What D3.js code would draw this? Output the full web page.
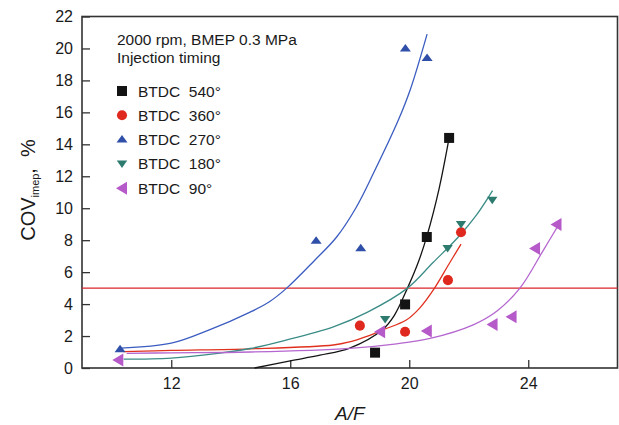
<!DOCTYPE html>
<html>
<head>
<meta charset="utf-8">
<script src="https://cdn.jsdelivr.net/npm/d3@7"></script>
<style>
  html, body { margin: 0; padding: 0; background: #fff; }
  svg { display: block; font-family: "Liberation Sans", Arial, sans-serif; }
</style>
</head>
<body>
<div id="chart"></div>
<script>
// ---------------------------------------------------------------------------
// Données
// ---------------------------------------------------------------------------
const xMajorTicks = [12, 16, 20, 24];
const xMinorTicks = [10, 14, 18, 22, 26];
const yMajorTicks = [0, 2, 4, 6, 8, 10, 12, 14, 16, 18, 20, 22];
const yMinorTicks = [1, 3, 5, 7, 9, 11, 13, 15, 17, 19, 21];
const limitCov = 5;

const seriesNames = ['BTDC  540°', 'BTDC  360°', 'BTDC  270°', 'BTDC  180°', 'BTDC  90°'];

// points mesurés [A/F, COV]
const pts540 = [[18.85, 0.96], [19.86, 3.98], [20.59, 8.2], [21.34, 14.4]];
const pts360 = [[18.34, 2.65], [19.86, 2.27], [21.3, 5.5], [21.74, 8.5]];
const pts270 = [[10.28, 1.17], [16.87, 7.96], [18.37, 7.5], [19.87, 20.0], [20.6, 19.4]];
const pts180 = [[19.19, 3.04], [21.29, 7.48], [21.74, 8.98], [22.79, 10.5]];
const pts90  = [[10.22, 0.5], [19.02, 2.27], [20.59, 2.31], [22.8, 2.73], [23.44, 3.2], [24.23, 7.48], [24.95, 8.98]];

// courbes de tendance [A/F, COV]
const fit540 = [[14.8, 0], [16.0, 0.45], [17.0, 0.8], [18.0, 1.25], [19.1, 2.4], [19.5, 3.3], [19.94, 5.0],
                [20.3, 6.6], [20.6, 8.3], [21.0, 11.2], [21.34, 14.4]];
const fit360 = [[10.4, 1.02], [12.0, 1.1], [14.65, 1.2], [17.45, 1.44], [18.0, 1.64], [18.6, 2.0], [19.13, 2.4],
                [19.9, 3.0], [20.35, 3.75], [20.85, 5.0], [21.3, 6.4], [21.74, 7.75]];
const fit270 = [[10.3, 1.25], [12.0, 1.55], [13.3, 2.4], [14.65, 3.5], [15.3, 4.15], [15.88, 5.0], [16.8, 6.7],
                [17.56, 8.2], [18.2, 10.0], [18.8, 12.2], [19.63, 15.5], [20.03, 17.4], [20.6, 20.9]];
const fit180 = [[10.4, 0.55], [12.0, 0.62], [13.5, 0.9], [14.65, 1.22], [15.8, 1.72], [17.45, 2.58], [18.6, 3.5],
                [19.94, 5.0], [20.8, 6.6], [21.65, 8.2], [22.27, 9.6], [22.8, 11.1]];
const fit90  = [[10.5, 0.92], [12.0, 0.95], [14.65, 1.0], [18.0, 1.23], [19.5, 1.5], [20.7, 1.85], [22.15, 2.7],
                [22.94, 3.55], [23.72, 5.0], [24.5, 7.35], [25.05, 9.05]];

// ---------------------------------------------------------------------------
// Mise en page
// ---------------------------------------------------------------------------
const W = 619, H = 425;
const plotL = 82, plotR = 617.5, plotT = 16.5, plotB = 368;

const x = d3.scaleLinear().domain([9, 27]).range([plotL, plotR]);
const y = d3.scaleLinear().domain([0, 22]).range([plotB, plotT]);

const svg = d3.select('#chart').append('svg')
    .attr('width', W)
    .attr('height', H)
    .attr('viewBox', `0 0 ${W} ${H}`);

// symboles (chemins relatifs au centre)
const shapes = {
    square:   'M-5,-5H5V5H-5Z',
    circle:   d3.symbol(d3.symbolCircle, 80)(),
    up:       'M0,-4.5L5.5,3L-5.5,3Z',
    down:     'M0,4L5.2,-3.5L-5.2,-3.5Z',
    left:     'M-6,0L5,-6.5L5,6.5Z'
};

const series = [
    { name: seriesNames[0], pts: pts540, fit: fit540, mark: '#141414', line: '#141414', shape: 'square' },
    { name: seriesNames[1], pts: pts360, fit: fit360, mark: '#e0291e', line: '#e0301e', shape: 'circle' },
    { name: seriesNames[2], pts: pts270, fit: fit270, mark: '#2f4fa8', line: '#3b5cc0', shape: 'up' },
    { name: seriesNames[3], pts: pts180, fit: fit180, mark: '#2d7a6f', line: '#3a8c86', shape: 'down' },
    { name: seriesNames[4], pts: pts90,  fit: fit90,  mark: '#b659c9', line: '#b566cf', shape: 'left' }
];

// ── Axes (ticks vers l'intérieur) ─────────────────────────────────────────
const gx = svg.append('g').attr('transform', `translate(0,${plotB})`);
gx.call(d3.axisBottom(x).tickValues(xMinorTicks).tickSize(-5).tickFormat(''));
gx.call(d3.axisBottom(x).tickValues(xMajorTicks).tickSize(-8).tickPadding(10).tickSizeOuter(0));

const gy = svg.append('g').attr('transform', `translate(${plotL},0)`);
gy.call(d3.axisLeft(y).tickValues(yMinorTicks).tickSize(-5).tickFormat(''));
gy.call(d3.axisLeft(y).tickValues(yMajorTicks).tickSize(-8).tickPadding(9).tickSizeOuter(0));

svg.selectAll('.domain').remove();
svg.selectAll('.tick line').attr('stroke', '#333').attr('stroke-width', 1.3);
svg.selectAll('.tick text').attr('font-size', 16).attr('fill', '#1a1a1a')
    .attr('font-family', '"Liberation Sans", Arial, sans-serif');

// cadre
svg.append('rect')
    .attr('x', plotL).attr('y', plotT)
    .attr('width', plotR - plotL).attr('height', plotB - plotT)
    .attr('fill', 'none').attr('stroke', '#333').attr('stroke-width', 1.6);

// ── Limite COV = 5 % ──────────────────────────────────────────────────────
svg.append('line')
    .attr('x1', plotL).attr('x2', plotR)
    .attr('y1', y(limitCov)).attr('y2', y(limitCov))
    .attr('stroke', '#d9262a').attr('stroke-width', 1.3);

// ── Courbes ───────────────────────────────────────────────────────────────
const line = d3.line()
    .x(d => x(d[0]))
    .y(d => y(d[1]))
    .curve(d3.curveCatmullRom.alpha(0.5));

svg.append('g').selectAll('path')
    .data(series)
    .join('path')
    .attr('d', d => line(d.fit))
    .attr('fill', 'none')
    .attr('stroke', d => d.line)
    .attr('stroke-width', 1.3);

// ── Points ────────────────────────────────────────────────────────────────
series.forEach(s => {
    svg.append('g').selectAll('path')
        .data(s.pts)
        .join('path')
        .attr('transform', d => `translate(${x(d[0])},${y(d[1])})`)
        .attr('d', shapes[s.shape])
        .attr('fill', s.mark);
});

// ── Légende ───────────────────────────────────────────────────────────────
const legend = svg.append('g')
    .attr('font-size', 15.5)
    .attr('fill', '#1a1a1a');

legend.append('text').attr('x', 117).attr('y', 45).text('2000 rpm, BMEP 0.3 MPa');
legend.append('text').attr('x', 117).attr('y', 62.5).text('Injection timing');

series.forEach((s, i) => {
    const cy = 91 + i * 24.3;
    legend.append('path')
        .attr('transform', `translate(122,${cy})`)
        .attr('d', shapes[s.shape])
        .attr('fill', s.mark);
    legend.append('text')
        .attr('x', 138).attr('y', cy)
        .attr('dy', '0.36em')
        .style('white-space', 'pre')
        .text(s.name);
});

// ── Titres des axes ───────────────────────────────────────────────────────
svg.append('text')
    .attr('x', (plotL + plotR) / 2)
    .attr('y', 420)
    .attr('text-anchor', 'middle')
    .attr('font-size', 19)
    .attr('font-style', 'italic')
    .attr('fill', '#1a1a1a')
    .text('A/F');

const yTitle = svg.append('text')
    .attr('transform', 'translate(35,190) rotate(-90)')
    .attr('text-anchor', 'middle')
    .attr('font-size', 20)
    .attr('fill', '#1a1a1a')
    .style('white-space', 'pre');
yTitle.append('tspan').text('COV');
yTitle.append('tspan').attr('font-size', 11).attr('dy', 4).text('imep');
yTitle.append('tspan').attr('dy', -4).text(',  %');
</script>
</body>
</html>
